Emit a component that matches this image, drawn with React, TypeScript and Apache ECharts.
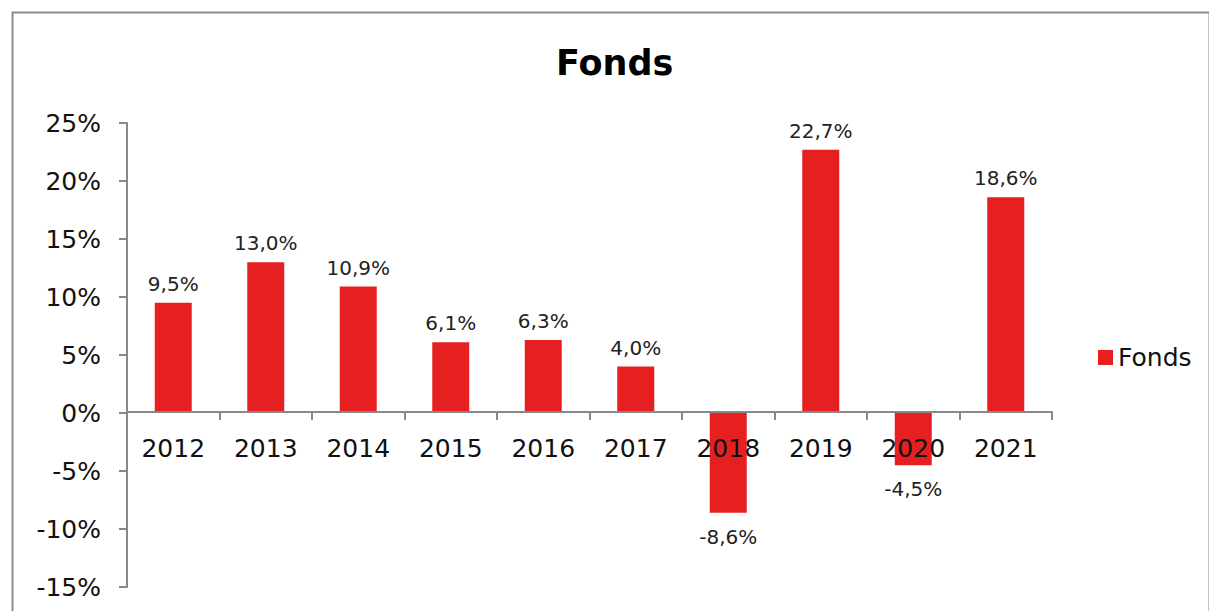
import React, { useEffect, useRef } from "react";
import * as echarts from "echarts";

const categories = ["2012", "2013", "2014", "2015", "2016", "2017", "2018", "2019", "2020", "2021"];
const fondsValues = [9.5, 13.0, 10.9, 6.1, 6.3, 4.0, -8.6, 22.7, -4.5, 18.6];
const seriesName = "Fonds";
const titleText = "Fonds";

const FONT = "DejaVu Sans";
const RED = "#E62020";

export default function App() {
  const ref = useRef<HTMLDivElement>(null);
  useEffect(() => {
    if (!ref.current) return;
    const chart = echarts.init(ref.current, undefined, { renderer: "svg" });
    const data = fondsValues.map((v) => ({
      value: v,
      label: v < 0 ? { position: "bottom", distance: 14 } : { position: "top", distance: 9 },
    }));
    chart.setOption({
      animation: false,
      backgroundColor: "#ffffff",
      title: {
        text: titleText,
        left: 551,
        top: 40,
        textStyle: { fontFamily: FONT, fontSize: 35, fontWeight: "bold", color: "#000" },
      },
      legend: {
        data: [seriesName],
        left: 1093,
        top: 340,
        itemWidth: 15,
        itemHeight: 15,
        itemGap: 6,
        icon: "rect",
        textStyle: { fontFamily: FONT, fontSize: 25, color: "#111" },
      },
      grid: { left: 127, right: 157, top: 123, bottom: 24, containLabel: false, outerBoundsMode: "none" },
      xAxis: {
        type: "category",
        data: categories,
        offset: -175,
        axisLine: { onZero: false, lineStyle: { color: "#888", width: 2 } },
        axisTick: { show: true, length: 8, alignWithLabel: false, lineStyle: { color: "#888", width: 2 } },
        axisLabel: { margin: 24, fontFamily: FONT, fontSize: 25, color: "#111" },
        splitLine: { show: false },
        z: 10,
      },
      yAxis: {
        type: "value",
        min: -15,
        max: 25,
        interval: 5,
        axisLine: { show: true, lineStyle: { color: "#888", width: 2 } },
        axisTick: { show: true, length: 8, lineStyle: { color: "#888", width: 2 } },
        axisLabel: {
          margin: 26,
          fontFamily: FONT,
          fontSize: 25,
          color: "#111",
          formatter: (v: number) => `${v}%`,
        },
        splitLine: { show: false },
      },
      graphic: [
        {
          type: "rect",
          left: 10,
          top: 10,
          shape: { x: 0, y: 0, width: 1197, height: 640 },
          style: { fill: "none", stroke: "#8c8c8c", lineWidth: 2 },
          silent: true,
          z: -10,
        },
      ],
      series: [
        {
          name: seriesName,
          type: "bar",
          data,
          barWidth: 37,
          z: 2,
          itemStyle: { color: RED },
          label: {
            show: true,
            fontFamily: FONT,
            fontSize: 20,
            color: "#222",
            formatter: (p: any) => `${p.value.toFixed(1).replace(".", ",")}%`,
          },
        },
      ],
    });
    return () => chart.dispose();
  }, []);
  return (
    <div
      ref={ref}
      style={{ position: "fixed", left: 0, top: 0, width: 1209, height: 611, background: "#fff" }}
    />
  );
}
